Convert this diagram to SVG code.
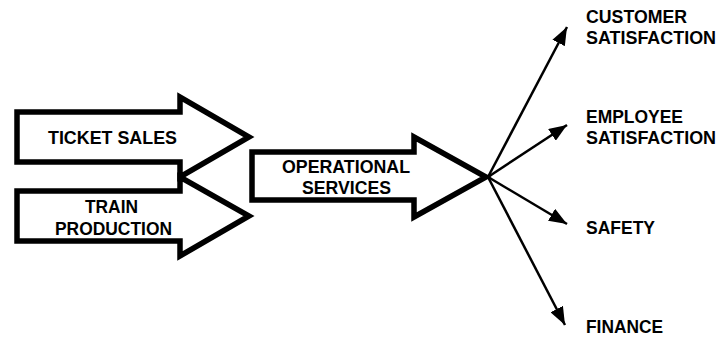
<svg xmlns="http://www.w3.org/2000/svg" width="721" height="338" viewBox="0 0 721 338">
<style>
.arrow{fill:#fff;stroke:#000;stroke-width:5.5;stroke-linejoin:miter}
.t{font-family:"Liberation Sans",Arial,sans-serif;font-weight:bold;fill:#000}
.a{font-size:18px}
.l{font-size:17.5px}
.c{stroke:#000;stroke-width:2.5;fill:none}
</style>
<defs>
<marker id="ah" markerUnits="userSpaceOnUse" markerWidth="20" markerHeight="14" refX="18" refY="7" orient="auto">
<path d="M0,0 L18,7 L0,14 Z" fill="#000"/>
</marker>
</defs>
<g id="ticket-sales">
<polygon class="arrow" points="17,112 180,112 180,97 249,137 180,177 180,162 17,162"/>
<text class="t a" x="48" y="144" textLength="129" lengthAdjust="spacingAndGlyphs">TICKET SALES</text>
</g>
<g id="train-production">
<polygon class="arrow" points="17,191 180,191 180,177 249,216 180,256 180,241 17,241"/>
<text class="t a" x="85" y="213" textLength="53" lengthAdjust="spacingAndGlyphs">TRAIN</text>
<text class="t a" x="55" y="235" textLength="117" lengthAdjust="spacingAndGlyphs">PRODUCTION</text>
</g>
<g id="operational-services">
<polygon class="arrow" points="252,152 414,152 414,137 486,177 414,217 414,200 252,200"/>
<text class="t a" x="282" y="173" textLength="128" lengthAdjust="spacingAndGlyphs">OPERATIONAL</text>
<text class="t a" x="302" y="194" textLength="89" lengthAdjust="spacingAndGlyphs">SERVICES</text>
</g>
<g id="connectors">
<line class="c" x1="488" y1="177" x2="567" y2="27" marker-end="url(#ah)"/>
<line class="c" x1="488" y1="177" x2="567" y2="125" marker-end="url(#ah)"/>
<line class="c" x1="488" y1="177" x2="567" y2="224" marker-end="url(#ah)"/>
<line class="c" x1="488" y1="177" x2="565" y2="325" marker-end="url(#ah)"/>
</g>
<g id="customer-satisfaction">
<text class="t l" x="586" y="23" textLength="101" lengthAdjust="spacingAndGlyphs">CUSTOMER</text>
<text class="t l" x="586" y="44" textLength="130" lengthAdjust="spacingAndGlyphs">SATISFACTION</text>
</g>
<g id="employee-satisfaction">
<text class="t l" x="586" y="123" textLength="97" lengthAdjust="spacingAndGlyphs">EMPLOYEE</text>
<text class="t l" x="586" y="144" textLength="130" lengthAdjust="spacingAndGlyphs">SATISFACTION</text>
</g>
<g id="safety">
<text class="t l" x="586" y="234" textLength="69" lengthAdjust="spacingAndGlyphs">SAFETY</text>
</g>
<g id="finance">
<text class="t l" x="586" y="333" textLength="77" lengthAdjust="spacingAndGlyphs">FINANCE</text>
</g>
</svg>
